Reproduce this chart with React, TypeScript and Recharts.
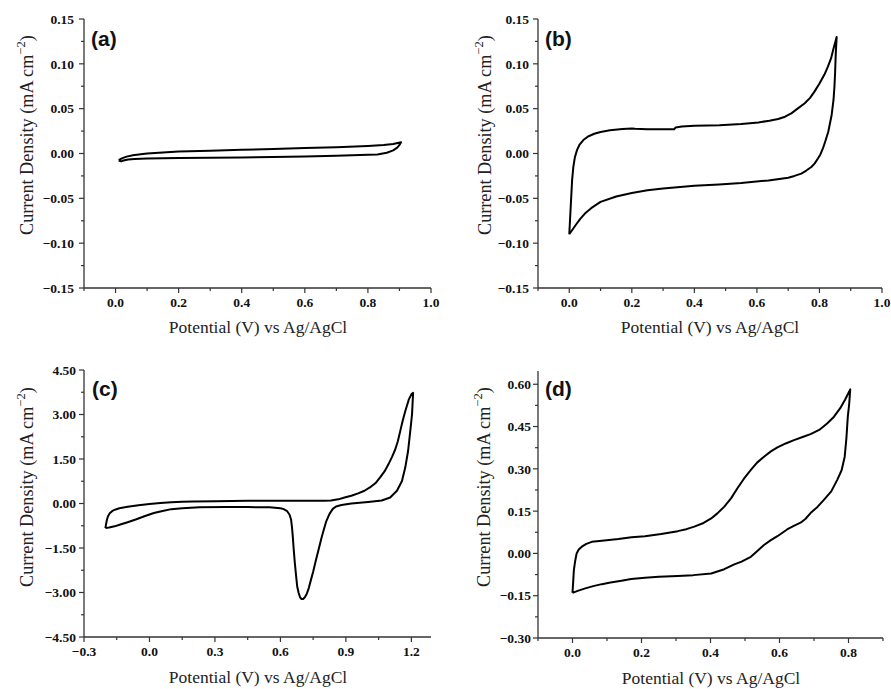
import React from "react";
import { LineChart, Line, XAxis, YAxis } from "recharts";

const AXIS = "#333";
const SERIF = '"Liberation Serif", "Times New Roman", serif';
const SANS = '"Liberation Sans", Arial, sans-serif';

// (a) potential (V) and current density (mA cm^-2), read along the loop
const aPotential = [0.01, 0.02, 0.035, 0.055, 0.08, 0.1, 0.15, 0.2, 0.3, 0.4, 0.5, 0.6, 0.7, 0.8, 0.85, 0.88, 0.905,
  0.9, 0.893, 0.88, 0.86, 0.83, 0.8, 0.7, 0.6, 0.5, 0.4, 0.3, 0.2, 0.1, 0.06, 0.04, 0.025, 0.018, 0.01];
const aCurrent = [-0.0075, -0.0055, -0.0035, -0.002, -0.0008, 0, 0.0012, 0.0022, 0.0032, 0.0041, 0.005, 0.006, 0.007, 0.0085, 0.0095, 0.0105, 0.0125,
  0.0095, 0.0065, 0.0035, 0.0008, -0.001, -0.0015, -0.0025, -0.0033, -0.004, -0.0045, -0.0048, -0.005, -0.0055, -0.006, -0.0066, -0.0078, -0.0088, -0.0078];
const aXMajor = [0, 0.2, 0.4, 0.6, 0.8, 1.0];
const aXMinor = [-0.1, 0.1, 0.3, 0.5, 0.7, 0.9];
const aYMajor = [-0.15, -0.1, -0.05, 0, 0.05, 0.1, 0.15];
const aYMinor = [-0.125, -0.075, -0.025, 0.025, 0.075, 0.125];

// (b)
const bPotential = [0, 0.003, 0.006, 0.009, 0.013, 0.018, 0.025, 0.033, 0.045, 0.06, 0.08, 0.1, 0.13, 0.17, 0.2, 0.21, 0.25, 0.3, 0.335, 0.34, 0.36, 0.4, 0.48, 0.55, 0.605, 0.64, 0.668, 0.69, 0.71, 0.73, 0.753, 0.77, 0.784, 0.8, 0.816, 0.827, 0.837, 0.845, 0.855,
  0.852, 0.85, 0.848, 0.845, 0.839, 0.828, 0.819, 0.811, 0.803, 0.795, 0.785, 0.774, 0.758, 0.742, 0.72, 0.7, 0.637, 0.55, 0.479, 0.4, 0.3, 0.25, 0.2, 0.15, 0.1, 0.07, 0.05, 0.035, 0.02, 0.01, 0];
const bCurrent = [-0.09, -0.07, -0.05, -0.03, -0.015, -0.004, 0.004, 0.01, 0.015, 0.019, 0.022, 0.024, 0.026, 0.0272, 0.028, 0.0275, 0.027, 0.027, 0.027, 0.029, 0.03, 0.031, 0.0315, 0.033, 0.0347, 0.0365, 0.0384, 0.041, 0.0448, 0.05, 0.056, 0.062, 0.069, 0.078, 0.088, 0.097, 0.106, 0.117, 0.13,
  0.11, 0.09, 0.075, 0.06, 0.043, 0.024, 0.014, 0.0056, -0.001, -0.0056, -0.011, -0.015, -0.019, -0.0224, -0.025, -0.027, -0.03, -0.033, -0.0347, -0.036, -0.039, -0.041, -0.044, -0.048, -0.054, -0.061, -0.067, -0.073, -0.08, -0.085, -0.09];
const bXMajor = [0, 0.2, 0.4, 0.6, 0.8, 1.0];
const bXMinor = [-0.1, 0.1, 0.3, 0.5, 0.7, 0.9];
const bYMajor = [-0.15, -0.1, -0.05, 0, 0.05, 0.1, 0.15];
const bYMinor = [-0.125, -0.075, -0.025, 0.025, 0.075, 0.125];

// (c)
const cPotential = [-0.202, -0.199, -0.195, -0.19, -0.182, -0.17, -0.155, -0.138, -0.1, -0.05, 0, 0.05, 0.1, 0.15, 0.2, 0.3, 0.45, 0.6, 0.75, 0.8, 0.832, 0.865, 0.894, 0.925, 0.956, 0.985, 1.01, 1.035, 1.056, 1.077, 1.095, 1.112, 1.126, 1.138, 1.149, 1.16, 1.172, 1.188, 1.2, 1.208,
  1.203, 1.195, 1.185, 1.172, 1.157, 1.134, 1.103, 1.064, 1.002, 0.925, 0.88, 0.855, 0.84, 0.825, 0.81, 0.8, 0.789, 0.775, 0.762, 0.75, 0.739, 0.73, 0.721, 0.712, 0.704, 0.697, 0.69, 0.683, 0.677, 0.672, 0.666, 0.661, 0.657, 0.653, 0.649, 0.642, 0.631, 0.615, 0.6, 0.55, 0.45, 0.35, 0.23,
  0.15, 0.1, 0.06, 0.02, -0.02, -0.06, -0.1, -0.13, -0.16, -0.185, -0.202];
const cCurrent = [-0.83, -0.7, -0.55, -0.43, -0.33, -0.25, -0.2, -0.16, -0.11, -0.06, -0.02, 0.02, 0.045, 0.06, 0.07, 0.08, 0.09, 0.09, 0.09, 0.09, 0.1, 0.14, 0.2, 0.26, 0.34, 0.43, 0.54, 0.68, 0.87, 1.08, 1.32, 1.58, 1.82, 2.1, 2.44, 2.78, 3.11, 3.5, 3.68, 3.73,
  3.0, 2.44, 1.77, 1.21, 0.76, 0.43, 0.2, 0.1, 0.05, 0, -0.05, -0.1, -0.18, -0.35, -0.6, -0.85, -1.14, -1.55, -1.93, -2.3, -2.6, -2.85, -3.04, -3.16, -3.22, -3.22, -3.16, -3.0, -2.8, -2.45, -2.0, -1.55, -1.14, -0.8, -0.55, -0.38, -0.26, -0.19, -0.16, -0.13, -0.12, -0.12, -0.13,
  -0.16, -0.19, -0.25, -0.32, -0.42, -0.53, -0.63, -0.7, -0.77, -0.81, -0.83];
const cXMajor = [-0.3, 0, 0.3, 0.6, 0.9, 1.2];
const cXMinor = [-0.15, 0.15, 0.45, 0.75, 1.05];
const cYMajor = [-4.5, -3, -1.5, 0, 1.5, 3, 4.5];
const cYMinor = [-3.75, -2.25, -0.75, 0.75, 2.25, 3.75];

// (d)
const dPotential = [0, 0.002, 0.004, 0.008, 0.012, 0.018, 0.027, 0.04, 0.056, 0.085, 0.133, 0.171, 0.21, 0.257, 0.305, 0.33, 0.353, 0.38, 0.402, 0.42, 0.44, 0.46, 0.478, 0.497, 0.517, 0.535, 0.555, 0.575, 0.594, 0.618, 0.642, 0.665, 0.69, 0.715, 0.738, 0.758, 0.776, 0.79, 0.805,
  0.802, 0.798, 0.794, 0.789, 0.78, 0.767, 0.75, 0.728, 0.71, 0.69, 0.675, 0.661, 0.64, 0.622, 0.594, 0.575, 0.555, 0.535, 0.517, 0.49, 0.469, 0.44, 0.402, 0.35, 0.305, 0.25, 0.21, 0.17, 0.142, 0.11, 0.085, 0.06, 0.037, 0.015, 0];
const dCurrent = [-0.14, -0.1, -0.059, -0.025, 0, 0.014, 0.024, 0.034, 0.041, 0.045, 0.051, 0.057, 0.061, 0.069, 0.079, 0.086, 0.095, 0.108, 0.124, 0.142, 0.166, 0.196, 0.231, 0.265, 0.296, 0.322, 0.343, 0.362, 0.376, 0.39, 0.402, 0.412, 0.423, 0.438, 0.461, 0.485, 0.515, 0.545, 0.582,
  0.53, 0.485, 0.41, 0.343, 0.295, 0.26, 0.22, 0.189, 0.165, 0.143, 0.122, 0.109, 0.097, 0.085, 0.061, 0.047, 0.03, 0.008, -0.012, -0.029, -0.039, -0.056, -0.071, -0.077, -0.08, -0.083, -0.086, -0.091, -0.097, -0.103, -0.109, -0.116, -0.124, -0.133, -0.14];
const dXMajor = [0, 0.2, 0.4, 0.6, 0.8];
const dXMinor = [-0.1, 0.1, 0.3, 0.5, 0.7, 0.9];
const dYMajor = [-0.3, -0.15, 0, 0.15, 0.3, 0.45, 0.6];
const dYMinor = [-0.225, -0.075, 0.075, 0.225, 0.375, 0.525];

const isMajor = (v: number, majors: number[]) => majors.some((m) => Math.abs(m - v) < 1e-6);
const fmt = (v: number, d: number) => (v < -1e-9 ? "\u2212" : "") + Math.abs(v).toFixed(d);

const BottomTick = (p: any) => {
  const major = isMajor(p.payload.value, p.majors);
  return (
    <g>
      <line x1={p.x} x2={p.x} y1={p.y} y2={p.y + (major ? 5 : 3)} stroke={AXIS} strokeWidth={1.2} />
      {major && (
        <text x={p.x} y={p.y + 18.5} textAnchor="middle" fontFamily={SERIF} fontWeight="bold" fontSize={13.5} fill="#111">
          {fmt(p.payload.value, p.digits)}
        </text>
      )}
    </g>
  );
};

const TopTick = (p: any) => {
  const major = isMajor(p.payload.value, p.majors);
  return <line x1={p.x} x2={p.x} y1={p.y} y2={p.y + (major ? 5 : 3)} stroke={AXIS} strokeWidth={1.2} />;
};

const LeftTick = (p: any) => {
  const major = isMajor(p.payload.value, p.majors);
  return (
    <g>
      <line x1={p.x - (major ? 5 : 3)} x2={p.x} y1={p.y} y2={p.y} stroke={AXIS} strokeWidth={1.2} />
      {major && (
        <text x={p.x - p.gap} y={p.y} dy="0.35em" textAnchor="end" fontFamily={SERIF} fontWeight="bold" fontSize={13.5} fill="#111">
          {fmt(p.payload.value, p.digits)}
        </text>
      )}
    </g>
  );
};

const RightTick = (p: any) => {
  const major = isMajor(p.payload.value, p.majors);
  return <line x1={p.x - (major ? 5 : 3)} x2={p.x} y1={p.y} y2={p.y} stroke={AXIS} strokeWidth={1.2} />;
};

function Panel(props: any) {
  const { left, top, width, height, margin, yAxisWidth, xAxisHeight, potential, current, xDomain, yDomain,
    xMajor, xMinor, yMajor, yMinor, xDigits, yDigits, gap } = props;
  const data = potential.map((x: number, i: number) => ({ x, y: current[i] }));
  const xTicks = [...xMajor, ...xMinor].sort((p, q) => p - q);
  const yTicks = [...yMajor, ...yMinor].sort((p, q) => p - q);
  const axisLine = { stroke: AXIS, strokeWidth: 1.3 };
  return (
    <div style={{ position: "absolute", left, top }}>
      <LineChart width={width} height={height} data={data} margin={margin}>
        <XAxis type="number" dataKey="x" domain={xDomain} ticks={xTicks} interval={0} allowDataOverflow
          height={xAxisHeight} tickSize={0} tickMargin={0} tickLine={false} axisLine={axisLine}
          tick={(p: any) => <BottomTick {...p} majors={xMajor} digits={xDigits} />} />
        <XAxis xAxisId="top" orientation="top" type="number" domain={xDomain} ticks={xTicks} interval={0} allowDataOverflow
          height={0} tickSize={0} tickMargin={0} tickLine={false} axisLine={axisLine}
          tick={(p: any) => <TopTick {...p} majors={xMajor} />} />
        <YAxis type="number" domain={yDomain} ticks={yTicks} interval={0} allowDataOverflow
          width={yAxisWidth} tickSize={0} tickMargin={0} tickLine={false} axisLine={axisLine}
          tick={(p: any) => <LeftTick {...p} majors={yMajor} digits={yDigits} gap={gap} />} />
        <YAxis yAxisId="right" orientation="right" type="number" domain={yDomain} ticks={yTicks} interval={0} allowDataOverflow
          width={0} tickSize={0} tickMargin={0} tickLine={false} axisLine={axisLine}
          tick={(p: any) => <RightTick {...p} majors={yMajor} />} />
        <Line type="linear" dataKey="y" stroke="#000" strokeWidth={2} strokeLinejoin="round" dot={false} isAnimationActive={false} />
      </LineChart>
    </div>
  );
}

// rotated title, anchored at its start (bottom end)
const YTitle = ({ x, y }: { x: number; y: number }) => (
  <text transform={`translate(${x},${y}) rotate(-90)`} textAnchor="start" fontFamily={SERIF} fontSize={18.2} fill="#222">
    Current Density (mA cm<tspan dy={-8} fontSize={12.5}>−2</tspan><tspan dy={8}>)</tspan>
  </text>
);

const XTitle = ({ x, y }: { x: number; y: number }) => (
  <text x={x} y={y} textAnchor="middle" fontFamily={SERIF} fontSize={17.5} fill="#222">
    Potential (V) vs Ag/AgCl
  </text>
);

const Letter = ({ x, y, t }: { x: number; y: number; t: string }) => (
  <text x={x} y={y} fontFamily={SANS} fontWeight="bold" fontSize={21} fill="#111">{t}</text>
);

export default function App() {
  return (
    <div style={{ position: "absolute", left: 0, top: 0, width: 891, height: 689, background: "#fff" }}>
      <Panel left={0} top={0} width={445} height={345} margin={{ top: 19, right: 14, left: 0, bottom: 0 }}
        yAxisWidth={84} xAxisHeight={57} potential={aPotential} current={aCurrent}
        xDomain={[-0.1, 1.0]} yDomain={[-0.15, 0.15]} xMajor={aXMajor} xMinor={aXMinor} yMajor={aYMajor} yMinor={aYMinor}
        xDigits={1} yDigits={2} gap={10} />
      <Panel left={445} top={0} width={446} height={345} margin={{ top: 19, right: 9, left: 0, bottom: 0 }}
        yAxisWidth={93} xAxisHeight={57} potential={bPotential} current={bCurrent}
        xDomain={[-0.1, 1.0]} yDomain={[-0.15, 0.15]} xMajor={bXMajor} xMinor={bXMinor} yMajor={bYMajor} yMinor={bYMinor}
        xDigits={1} yDigits={2} gap={9} />
      <Panel left={0} top={345} width={445} height={344} margin={{ top: 25, right: 14, left: 0, bottom: 0 }}
        yAxisWidth={84} xAxisHeight={52} potential={cPotential} current={cCurrent}
        xDomain={[-0.3, 1.29]} yDomain={[-4.5, 4.5]} xMajor={cXMajor} xMinor={cXMinor} yMajor={cYMajor} yMinor={cYMinor}
        xDigits={1} yDigits={2} gap={8} />
      <Panel left={445} top={345} width={446} height={344} margin={{ top: 26, right: 8, left: 0, bottom: 0 }}
        yAxisWidth={93} xAxisHeight={51} potential={dPotential} current={dCurrent}
        xDomain={[-0.1, 0.9]} yDomain={[-0.3, 0.647]} xMajor={dXMajor} xMinor={dXMinor} yMajor={dYMajor} yMinor={dYMinor}
        xDigits={1} yDigits={2} gap={7} />
      <svg width={891} height={689} style={{ position: "absolute", left: 0, top: 0, pointerEvents: "none" }}>
        <YTitle x={33} y={235} />
        <YTitle x={491} y={235} />
        <YTitle x={33} y={587} />
        <YTitle x={490} y={587} />
        <XTitle x={258} y={333} />
        <XTitle x={710} y={333} />
        <XTitle x={258} y={683} />
        <XTitle x={711} y={684} />
        <Letter x={91} y={46} t="(a)" />
        <Letter x={545} y={46} t="(b)" />
        <Letter x={92} y={396} t="(c)" />
        <Letter x={545} y={396} t="(d)" />
      </svg>
    </div>
  );
}
